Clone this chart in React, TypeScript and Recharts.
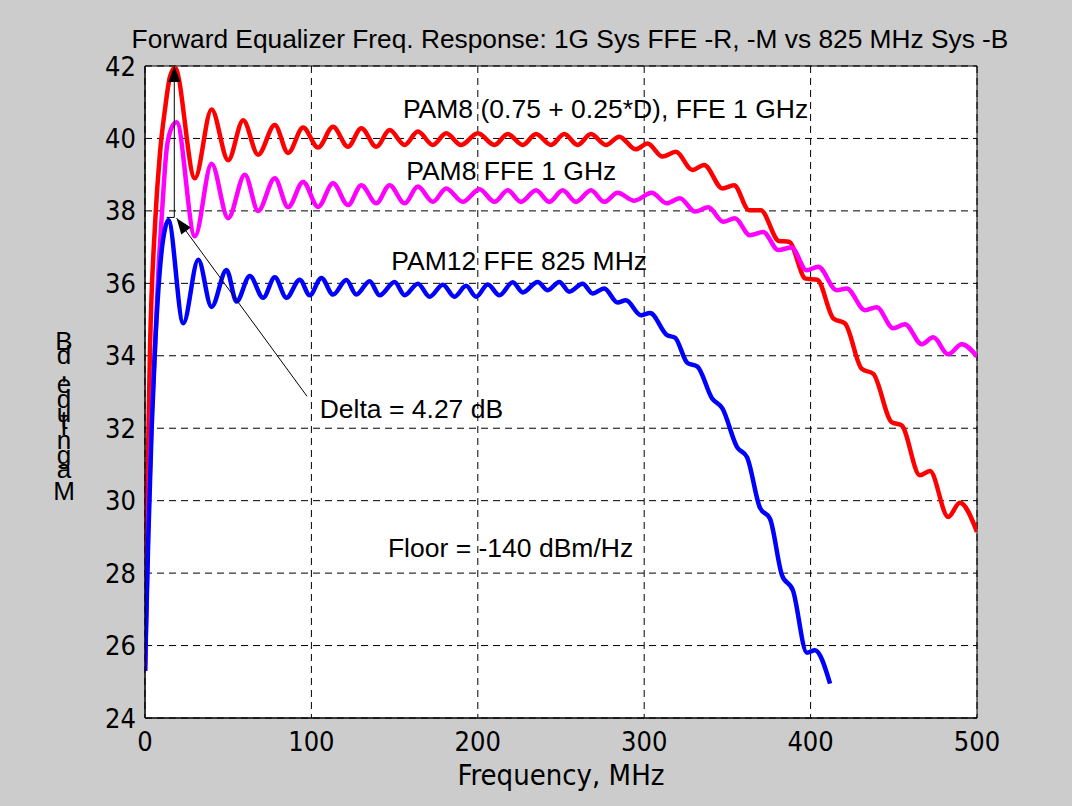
import React from 'react';
import {
  LineChart,
  Line,
  XAxis,
  YAxis,
  CartesianGrid,
  ReferenceDot,
  ReferenceLine,
  ReferenceArea,
} from 'recharts';

// frequency (MHz), magnitude (dB) at ripple peaks / troughs
const pam8Weighted: [number, number][] = [
  [0, 25.3], [1.5, 30.5], [3, 34.2], [6, 37.6], [9, 39.6], [12, 40.8], [15, 41.7], [18, 41.95],
  [30, 38.9], [40, 40.8], [50, 39.4], [59, 40.5], [68, 39.55], [78, 40.37], [86, 39.6],
  [95, 40.3], [104, 39.75], [113, 40.32], [122, 39.77], [130, 40.28], [139, 39.77],
  [147, 40.23], [156, 39.82], [164, 40.19], [173, 39.82], [181, 40.14], [190, 39.82],
  [200, 40.14], [210, 39.82], [218, 40.12], [227, 39.82], [235, 40.12], [244, 39.82],
  [252, 40.12], [260, 39.82], [268, 40.12], [277, 39.82], [285, 40.05], [295, 39.7],
  [302, 39.86], [311, 39.5], [319, 39.63], [329, 39.13], [336, 39.27], [347, 38.62],
  [354, 38.71], [363, 38.02], [370, 38.02], [381, 37.17], [387, 37.15], [397, 36.13],
  [404, 36.1], [413.7, 35.03], [420.7, 34.89], [430.7, 33.64], [437.7, 33.5],
  [448.7, 32.17], [454.7, 32.08], [465.7, 30.7], [471.7, 30.82], [482.7, 29.55],
  [489.7, 29.94], [500, 29.14],
];

const pam8Ffe: [number, number][] = [
  [0, 25.3], [2, 29.5], [4, 32.3], [6, 34.2], [8, 36.3], [10, 37.8], [13, 39.7], [16, 40.3],
  [19, 40.45], [30, 37.3], [40, 39.3], [50, 37.8], [60, 39.0], [68, 38.0], [78, 38.9],
  [86, 38.1], [95, 38.8], [104, 38.11], [113, 38.76], [122, 38.16], [130, 38.71],
  [139, 38.21], [147, 38.71], [156, 38.21], [164, 38.67], [173, 38.25], [181, 38.62],
  [191, 38.25], [201, 38.6], [210, 38.25], [218, 38.57], [226, 38.25], [235, 38.57],
  [243, 38.25], [251, 38.57], [259, 38.25], [268, 38.57], [276, 38.25], [284, 38.5],
  [294, 38.28], [304.5, 38.5], [313.5, 38.21], [321.5, 38.35], [330.5, 37.98],
  [338.5, 38.1], [347.5, 37.7], [354.5, 37.8], [363.5, 37.33], [371.5, 37.42],
  [380.5, 36.92], [388.6, 36.99], [397.6, 36.36], [404.6, 36.46], [415.7, 35.81],
  [421.7, 35.86], [432.7, 35.26], [439.7, 35.34], [449.7, 34.76], [456.7, 34.87],
  [466.8, 34.32], [473.7, 34.51], [482.7, 34.04], [490.8, 34.32], [500, 33.98],
];

const pam12Ffe: [number, number][] = [
  [0, 25.3], [2, 29], [4, 32], [6, 34.2], [8, 35.8], [10, 36.9], [12, 37.5], [14, 37.75],
  [23, 34.9], [32, 36.65], [40, 35.35], [49, 36.37], [55, 35.5], [63, 36.2], [71, 35.6],
  [78, 36.17], [85, 35.6], [93, 36.1], [99, 35.67], [106, 36.15], [113, 35.69],
  [121, 36.09], [127, 35.69], [135, 36.06], [141, 35.67], [150, 36.04], [156, 35.67],
  [164, 35.99], [171, 35.63], [179, 35.96], [186, 35.63], [193, 35.93], [199, 35.63],
  [206, 35.97], [213, 35.67], [221, 36.03], [227, 35.75], [236, 36.04], [242, 35.81],
  [249, 36.04], [255, 35.77], [263, 35.99], [269, 35.72], [276, 35.86], [284, 35.47],
  [289, 35.53], [298, 35.12], [303.5, 35.18], [313.7, 34.57], [318.5, 34.5], [326, 33.8],
  [332, 33.7], [340.7, 32.83], [347, 32.55], [355.8, 31.48], [361.8, 31.2], [369.6, 29.8],
  [375.6, 29.5], [382.8, 27.94], [389.4, 27.52], [397.8, 25.8], [402.6, 25.87],
  [411.7, 24.95],
];

const X_TICKS = [0, 100, 200, 300, 400, 500];
const Y_TICKS = [24, 26, 28, 30, 32, 34, 36, 38, 40, 42];

const notes = [
  { f: 155, db: 40.56, text: 'PAM8 (0.75 + 0.25*D), FFE 1 GHz' },
  { f: 157, db: 38.85, text: 'PAM8 FFE 1 GHz' },
  { f: 148, db: 36.37, text: 'PAM12 FFE 825 MHz' },
  { f: 105, db: 32.28, text: 'Delta = 4.27 dB' },
  { f: 146, db: 28.44, text: 'Floor = -140 dBm/Hz' },
];

const TITLE = 'Forward Equalizer Freq. Response: 1G Sys FFE -R, -M vs 825 MHz Sys -B';
const Y_LABEL = 'Magnitude, dB';

const toPoints = (pts: [number, number][]) => pts.map(([f, db]) => ({ f, db }));

const SANS = '"Liberation Sans", Arial, sans-serif';
const NARROW = '"Liberation Sans Narrow", "DejaVu Sans Condensed", "Liberation Sans", sans-serif';

// rough Arial advance widths, used to stack the y label glyphs like the original
const ADV: Record<string, number> = {
  M: 0.833, a: 0.556, g: 0.556, n: 0.556, i: 0.222, t: 0.278, u: 0.556,
  d: 0.556, e: 0.556, ',': 0.278, ' ': 0.278, B: 0.667,
};

const ArrowLine = (props: any) => {
  const { x1, y1, x2, y2, head } = props;
  const dx = x2 - x1;
  const dy = y2 - y1;
  const len = Math.hypot(dx, dy) || 1;
  const ux = dx / len;
  const uy = dy / len;
  const L = 16;
  const w = 6;
  const bx = x2 - ux * L;
  const by = y2 - uy * L;
  return (
    <g>
      <line x1={x1} y1={y1} x2={x2} y2={y2} stroke="#000" strokeWidth={1} />
      {head && (
        <polygon
          points={`${x2},${y2} ${bx - uy * w},${by + ux * w} ${bx + uy * w},${by - ux * w}`}
          fill="#000"
        />
      )}
    </g>
  );
};

// one text element, glyphs placed upright one above the other (as in the original)
const StackedLabel = () => {
  const size = 26;
  const xs: number[] = [];
  const ys: number[] = [];
  let y = 500;
  Y_LABEL.split('').forEach((ch) => {
    xs.push(64);
    ys.push(Math.round(y * 10) / 10);
    y -= (ADV[ch] ?? 0.556) * size;
  });
  return (
    <text
      x={xs.join(' ')}
      y={ys.join(' ')}
      textAnchor="middle"
      fontSize={size}
      fontFamily={SANS}
      fill="#000"
      xmlSpace="preserve"
    >
      {Y_LABEL}
    </text>
  );
};

export default function App() {
  return (
    <div
      style={{
        position: 'absolute',
        left: 0,
        top: 0,
        width: 1072,
        height: 806,
        background: '#cccccc',
      }}
    >
      <LineChart
        width={1072}
        height={806}
        margin={{ top: 66, right: 95, bottom: 58, left: 85 }}
      >
        <CartesianGrid
          fill="#ffffff"
          stroke="#000"
          strokeDasharray="7 5"
          horizontalValues={Y_TICKS}
          verticalValues={X_TICKS}
        />
        <XAxis
          type="number"
          dataKey="f"
          domain={[0, 500]}
          ticks={X_TICKS}
          allowDataOverflow
          height={30}
          tickLine={false}
          tickSize={0}
          tickMargin={14}
          axisLine={{ stroke: '#000' }}
          tick={{ fill: '#000', fontSize: 27, fontFamily: NARROW }}
          label={{
            value: 'Frequency, MHz',
            position: 'bottom',
            offset: 16,
            fill: '#000',
            fontSize: 29,
            fontFamily: NARROW,
          }}
        />
        <YAxis
          type="number"
          domain={[24, 42]}
          ticks={Y_TICKS}
          allowDataOverflow
          width={60}
          tickLine={false}
          tickSize={0}
          tickMargin={9}
          axisLine={{ stroke: '#000' }}
          tick={{ fill: '#000', fontSize: 27, fontFamily: NARROW }}
        />
        <Line
          data={toPoints(pam8Weighted)}
          dataKey="db"
          type="monotone"
          stroke="#ff0000"
          strokeWidth={4.5}
          dot={false}
          isAnimationActive={false}
        />
        <Line
          data={toPoints(pam8Ffe)}
          dataKey="db"
          type="monotone"
          stroke="#ff00ff"
          strokeWidth={4.5}
          dot={false}
          isAnimationActive={false}
        />
        <Line
          data={toPoints(pam12Ffe)}
          dataKey="db"
          type="monotone"
          stroke="#0000ff"
          strokeWidth={4.5}
          dot={false}
          isAnimationActive={false}
        />
        <ReferenceLine
          segment={[{ x: 13, y: 37.82 }, { x: 17.6, y: 37.82 }]}
          shape={(p: any) => <ArrowLine {...p} />}
        />
        <ReferenceLine
          segment={[{ x: 17.6, y: 37.82 }, { x: 17.6, y: 42 }]}
          shape={(p: any) => <ArrowLine {...p} head />}
        />
        <ReferenceLine
          segment={[{ x: 97.4, y: 32.88 }, { x: 19, y: 37.8 }]}
          shape={(p: any) => <ArrowLine {...p} head />}
        />
        {notes.map((n) => (
          <ReferenceDot
            key={n.text}
            x={n.f}
            y={n.db}
            r={0}
            shape={(p: any) => (
              <text x={p.cx} y={p.cy} fontSize={26.5} fontFamily={SANS} fill="#000">
                {n.text}
              </text>
            )}
          />
        ))}
        <ReferenceArea x1={0} x2={500} y1={24} y2={42} fill="none" stroke="#000" strokeWidth={1} />
      </LineChart>
      <svg
        width={1072}
        height={806}
        style={{ position: 'absolute', left: 0, top: 0, pointerEvents: 'none' }}
      >
        <text x={570} y={48} textAnchor="middle" fontSize={26.3} fontFamily={SANS} fill="#000">
          {TITLE}
        </text>
        <StackedLabel />
      </svg>
    </div>
  );
}
